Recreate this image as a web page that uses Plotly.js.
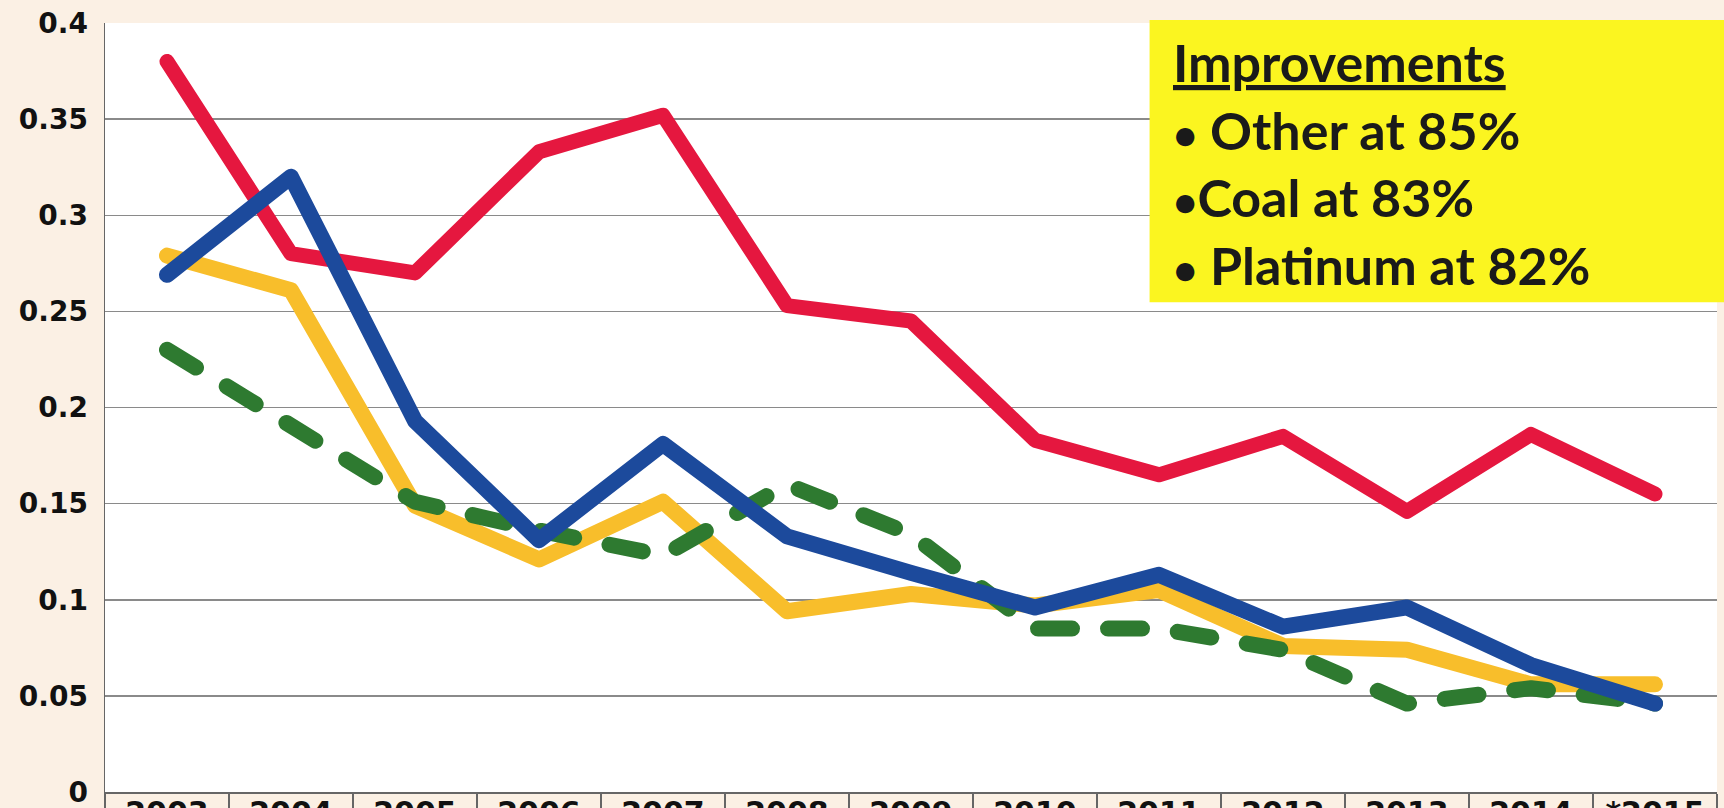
<!DOCTYPE html>
<html>
<head>
<meta charset="utf-8">
<script src="https://cdn.plot.ly/plotly-3.0.1.min.js"></script>
<style>
  html, body { margin: 0; padding: 0; background: #FBF0E4; }
  #chart { width: 1724px; height: 808px; }
  .scatterlayer .js-line { stroke-linecap: round !important; stroke-linejoin: round !important; }
</style>
</head>
<body>
<div id="chart"></div>
<script>
const years = ["2003","2004","2005","2006","2007","2008","2009","2010","2011","2012","2013","2014","*2015"];
const redValues    = [0.38, 0.28, 0.27, 0.333, 0.352, 0.253, 0.245, 0.183, 0.165, 0.185, 0.146, 0.186, 0.155];
const yellowValues = [0.279, 0.261, 0.149, 0.121, 0.151, 0.094, 0.103, 0.097, 0.105, 0.076, 0.074, 0.056, 0.056];
const greenValues  = [0.23, 0.19, 0.151, 0.136, 0.123, 0.16, 0.134, 0.085, 0.085, 0.074, 0.046, 0.054, 0.046];
const blueValues   = [0.269, 0.32, 0.193, 0.131, 0.181, 0.133, 0.114, 0.096, 0.113, 0.086, 0.096, 0.066, 0.046];
const bullet = '<span style="font-size:42px">•</span>';
const boxLines = ["<u>Improvements</u>", bullet + " Other at 85%", bullet + "Coal at 83%", bullet + " Platinum at 82%"];

const traces = [
  {x: years, y: redValues, type: "scatter", mode: "lines", line: {color: "#E5173F", width: 15}, hoverinfo: "skip"},
  {x: years, y: yellowValues, type: "scatter", mode: "lines", line: {color: "#F8BE2B", width: 16}, hoverinfo: "skip"},
  {x: years, y: greenValues, type: "scatter", mode: "lines", line: {color: "#2E7A30", width: 16, dash: "34px,36px"}, hoverinfo: "skip"},
  {x: years, y: blueValues, type: "scatter", mode: "lines", line: {color: "#1C4A9C", width: 16}, hoverinfo: "skip"}
];

const layout = {
  width: 1724, height: 808,
  margin: {l: 105, r: 7, t: 23, b: 16, pad: 0},
  paper_bgcolor: "#FBF0E4",
  plot_bgcolor: "#FFFFFF",
  showlegend: false,
  xaxis: {
    type: "category", categoryorder: "array", categoryarray: years,
    range: [-0.5, 12.5], showgrid: false, zeroline: false,
    showline: true, linecolor: "#666", linewidth: 1.5,
    ticks: "outside", tickson: "boundaries", ticklen: 16, tickcolor: "#666", tickwidth: 1.5,
    ticklabelstandoff: -7, ticklabeloverflow: "allow",
    tickfont: {family: "DejaVu Sans, sans-serif", size: 30, color: "#111", weight: "bold"},
    fixedrange: true
  },
  yaxis: {
    range: [0, 0.4], dtick: 0.05, tick0: 0,
    showgrid: true, gridcolor: "#8a8a8a", gridwidth: 1.5,
    zeroline: false, showline: true, linecolor: "#666", linewidth: 1.5,
    ticks: "", ticklabelstandoff: 10, ticklabeloverflow: "allow",
    tickfont: {family: "DejaVu Sans, sans-serif", size: 28, color: "#111", weight: "bold"},
    fixedrange: true
  },
  shapes: [
    {type: "rect", xref: "paper", yref: "paper", x0: 0.648, x1: 1.01, y0: 0.637, y1: 1.004,
     fillcolor: "#FBF520", line: {width: 0}, layer: "above"}
  ],
  annotations: [
    {xref: "paper", yref: "paper", x: 0.661, y: 0.992, xanchor: "left", yanchor: "top",
     align: "left", showarrow: false, text: boxLines.join("<br>"),
     font: {family: "Lato, Noto Sans, sans-serif", size: 52, color: "#1a1a1a", weight: "bold"}}
  ]
};

Plotly.newPlot("chart", traces, layout, {staticPlot: true, displayModeBar: false});
</script>
</body>
</html>
